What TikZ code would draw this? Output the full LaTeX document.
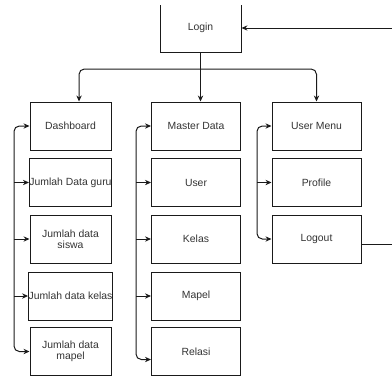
\documentclass[tikz,border=0pt]{standalone}
\usepackage{fontspec}
\setmainfont{Liberation Sans}
\usepackage{tikz}
\usetikzlibrary{arrows.meta,positioning}
\definecolor{lnk}{HTML}{1A1A1A}
\definecolor{txt}{HTML}{333333}

\begin{document}
\begin{tikzpicture}[
  x=0.75pt,y=-0.75pt,
  font=\fontsize{7.8}{8.4}\selectfont,
  box/.style={draw=lnk,line width=0.75pt,fill=white,text=txt,align=center,
              inner sep=0pt,minimum width=66.75pt,minimum height=36pt},
  nbox/.style={box,minimum width=60.75pt},
  a/.style={-{Stealth[length=4.5pt,width=4pt]},draw=lnk,line width=0.75pt},
  aa/.style={{Stealth[length=4.5pt,width=4pt]}-{Stealth[length=4.5pt,width=4pt]},
             draw=lnk,line width=0.75pt,rounded corners=4pt}]

\useasboundingbox (0,0) rectangle (392,376);
\clip (0,5) rectangle (392,376);

% ------------------------------- top --------------------------------------
\node[nbox] (login) at (200.5,28) {Login};
\coordinate (br)  at (200.5,69);
\coordinate (ret) at (420,28);

% ------------------------------ columns -----------------------------------
\node[nbox] (dash)  at (70.5,126) {Dashboard};
\node[nbox] (guru)  at (70.5,182.5) {Jumlah Data guru};
\node[nbox] (siswa) at (70.5,239) {Jumlah data\\siswa};
\node[nbox] (kls)   at (70.5,296) {Jumlah data kelas};
\node[nbox] (mpl)   at (70.5,351.5) {Jumlah data\\mapel};

\node[box] (master) at (196,126) {Master Data};
\node[box] (user)   at (196,182.5) {User};
\node[box] (kelas)  at (196,239) {Kelas};
\node[box] (mapel)  at (196,296) {Mapel};
\node[box] (relasi) at (196,351.5) {Relasi};

\node[box] (umenu)  at (316.5,126) {User Menu};
\node[box] (prof)   at (316.5,182.5) {Profile};
\node[box] (logout) at (316.5,239) {Logout};

% --------------------------- login branches -------------------------------
\draw[a] (login.south) -- (login.south |- master.north);
\draw[a,rounded corners=4pt] (br) -| ([xshift=6.4pt]dash.north);
\draw[a,rounded corners=4pt] (br) -| (umenu.north);
% logout leads back to login, round the right edge
\draw[a] ([yshift=-3.75pt]logout.east) -| (ret) -- (login.east);

% ------------------------------ side buses --------------------------------
\coordinate (bus1) at (14,239);
\draw[aa] (dash.west) -| (bus1) |- (mpl.west);
\draw[a] (guru.west -| bus1) -- (guru.west);
\draw[a] (siswa.west -| bus1) -- (siswa.west);
\draw[a] (kls.west -| bus1) -- (kls.west);

\coordinate (bus2) at (136,239);
\draw[aa] (master.west) -| (bus2) |- ([yshift=-6pt]relasi.west);
\draw[a] (user.west -| bus2) -- (user.west);
\draw[a] (kelas.west -| bus2) -- (kelas.west);
\draw[a] (mapel.west -| bus2) -- (mapel.west);

\coordinate (bus3) at (257,182.5);
\draw[aa] (umenu.west) -| (bus3) |- (logout.west);
\draw[a] (prof.west -| bus3) -- (prof.west);
\end{tikzpicture}
\end{document}
